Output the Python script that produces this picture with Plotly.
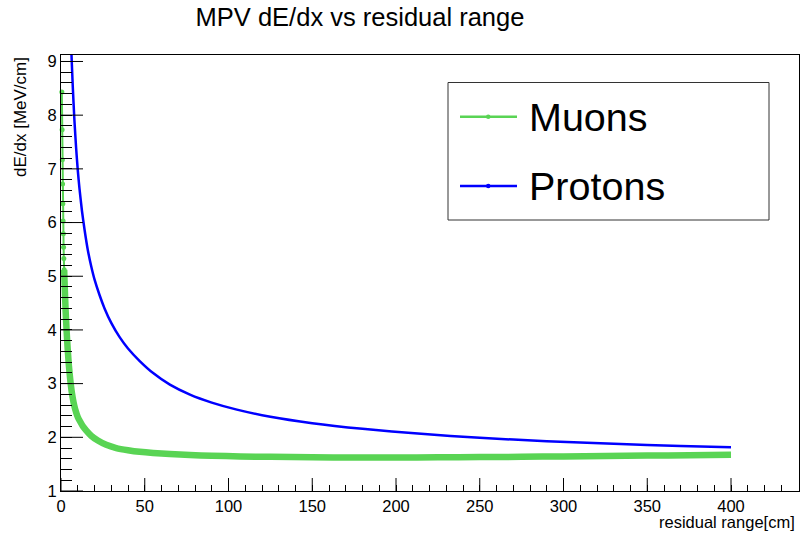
import plotly.graph_objects as go

# ---- data ----
muon_x = [0.5, 0.65, 0.8, 0.95, 1.1, 1.25, 1.4, 1.55, 1.7, 1.9, 2.1, 2.4, 2.8, 3.4, 4.0,
          4.7, 5.5, 6.5, 7.5, 8.5, 10, 11.5, 13, 15, 18, 22, 27, 33, 40, 47, 55, 65,
          77, 90, 107, 125, 150, 175, 200, 225, 250, 275, 300, 325, 350, 375, 400]
muon_y = [8.43, 7.73, 7.17, 6.72, 6.35, 6.03, 5.79, 5.54, 5.33, 5.12, 4.92, 4.65, 4.33, 3.95, 3.64,
          3.34, 3.08, 2.83, 2.65, 2.52, 2.38, 2.29, 2.21, 2.13, 2.03, 1.94, 1.86, 1.80, 1.76, 1.73, 1.707, 1.687,
          1.670, 1.656, 1.644, 1.636, 1.628, 1.624, 1.624, 1.627, 1.631, 1.637, 1.644, 1.651, 1.659, 1.668, 1.677]
muon_split = 9  # dotted thin part before, dense thick band after

proton_x = [5.5, 6, 7, 8, 9, 10, 11, 12.5, 14, 16, 18, 20, 23, 26, 30, 35, 40, 47, 55, 65, 77, 90,
            105, 125, 150, 180, 215, 250, 290, 330, 370, 400]
proton_y = [9.81, 9.34, 8.55, 7.91, 7.40, 6.98, 6.64, 6.22, 5.88, 5.49, 5.19, 4.94, 4.65, 4.40, 4.13,
            3.865, 3.654, 3.42, 3.196, 2.98, 2.794, 2.646, 2.515, 2.382, 2.263, 2.158, 2.064, 1.991,
            1.927, 1.878, 1.840, 1.816]

x_major_ticks = [0, 50, 100, 150, 200, 250, 300, 350, 400]
y_major_ticks = [1, 2, 3, 4, 5, 6, 7, 8, 9]

legend_labels = ["Muons", "Protons"]
title_text = "MPV dE/dx vs residual range"
x_title = "residual range[cm]"
y_title = "dE/dx [MeV/cm]"

GREEN = "#59d454"
BLUE = "#0000ff"
FONT = "Liberation Sans, Arial, sans-serif"

W, H = 801, 537
L, R, T, B = 61, 2, 55, 46
PW, PH = W - L - R, H - T - B
XR = [0, PW / 1.675]
YR = [1, 1 + PH / 53.69]


def px_x(p):
    return (p - L) / PW


def px_y(p):
    return (H - B - p) / PH


fig = go.Figure()
fig.add_trace(go.Scatter(x=proton_x, y=proton_y, mode="lines",
                         line=dict(color=BLUE, width=2.5, shape="spline", smoothing=0.5),
                         showlegend=False))
fig.add_trace(go.Scatter(x=muon_x[muon_split:], y=muon_y[muon_split:], mode="lines",
                         line=dict(color=GREEN, width=6.5, shape="spline", smoothing=0.5),
                         showlegend=False))
fig.add_trace(go.Scatter(x=muon_x[:muon_split + 1], y=muon_y[:muon_split + 1], mode="lines+markers",
                         line=dict(color=GREEN, width=2), marker=dict(color=GREEN, size=5),
                         showlegend=False, cliponaxis=False))
# empty trace so the overlay minor-tick axes exist
fig.add_trace(go.Scatter(x=[], y=[], xaxis="x2", yaxis="y2", showlegend=False, hoverinfo="skip"))

tickfont = dict(family=FONT, size=16.5, color="black")
ov = dict(showgrid=False, zeroline=False, showline=False, showticklabels=False,
          tickmode="linear", tickwidth=1, tickcolor="black")

fig.update_layout(
    width=W, height=H, margin=dict(l=L, r=R, t=T, b=B, autoexpand=False),
    paper_bgcolor="white", plot_bgcolor="white",
    title=dict(text=title_text, x=360 / W, y=1 - 17.5 / H, xanchor="center", yanchor="middle",
               font=dict(family=FONT, size=25.5, color="black")),
    showlegend=False,
    xaxis=dict(range=XR, showgrid=False, zeroline=False,
               showline=True, linecolor="black", linewidth=1, mirror=True,
               tickmode="array", tickvals=x_major_ticks, ticks="", tickfont=tickfont),
    yaxis=dict(range=YR, showgrid=False, zeroline=False,
               showline=True, linecolor="black", linewidth=1, mirror=True,
               tickmode="array", tickvals=y_major_ticks, ticks="", tickfont=tickfont),
    # minor ticks (inside, from the bottom / left)
    xaxis2=dict(range=XR, overlaying="x", anchor="y", side="bottom", tick0=0, dtick=10,
                ticks="inside", ticklen=6.5, **ov),
    yaxis2=dict(range=YR, overlaying="y", anchor="x", side="left", tick0=1, dtick=0.2,
                ticks="inside", ticklen=11, **ov),
)

shapes = []
# major ticks, placed through the axis scales
for v in x_major_ticks:
    shapes.append(dict(type="line", xref="x", yref="paper", x0=v, x1=v, y0=0, y1=13 / PH,
                       line=dict(color="black", width=1), layer="above"))
for v in y_major_ticks:
    shapes.append(dict(type="line", xref="paper", yref="y", x0=0, x1=22 / PW, y0=v, y1=v,
                       line=dict(color="black", width=1), layer="above"))

shapes.append(dict(type="rect", xref="paper", yref="paper", x0=px_x(448), x1=px_x(769),
                   y0=px_y(220), y1=px_y(82.5),
                   line=dict(color="#333333", width=1), fillcolor="white", layer="above"))
annotations = [
    dict(text=x_title, xref="paper", yref="paper", x=px_x(797), y=px_y(522), xanchor="right",
         yanchor="middle", showarrow=False, font=dict(family=FONT, size=16.5, color="black")),
    dict(text=y_title, xref="paper", yref="paper", x=px_x(20), y=px_y(55), xanchor="center",
         yanchor="top", textangle=-90, showarrow=False, font=dict(family=FONT, size=17, color="black")),
]
for i, (lab, col) in enumerate(zip(legend_labels, [GREEN, BLUE])):
    yy = 116.7 + i * 69.3
    shapes.append(dict(type="line", xref="paper", yref="paper", x0=px_x(460), x1=px_x(517),
                       y0=px_y(yy), y1=px_y(yy), line=dict(color=col, width=2.5), layer="above"))
    shapes.append(dict(type="circle", xref="paper", yref="paper", x0=px_x(486), x1=px_x(490.5),
                       y0=px_y(yy + 2.25), y1=px_y(yy - 2.25), line=dict(color=col, width=0),
                       fillcolor=col, layer="above"))
    annotations.append(dict(text=lab, xref="paper", yref="paper", x=px_x(527), y=px_y(yy),
                            xanchor="left", yanchor="middle", showarrow=False,
                            font=dict(family=FONT, size=39.5, color="black")))

fig.update_layout(shapes=shapes, annotations=annotations)

fig.write_html("out.html")
